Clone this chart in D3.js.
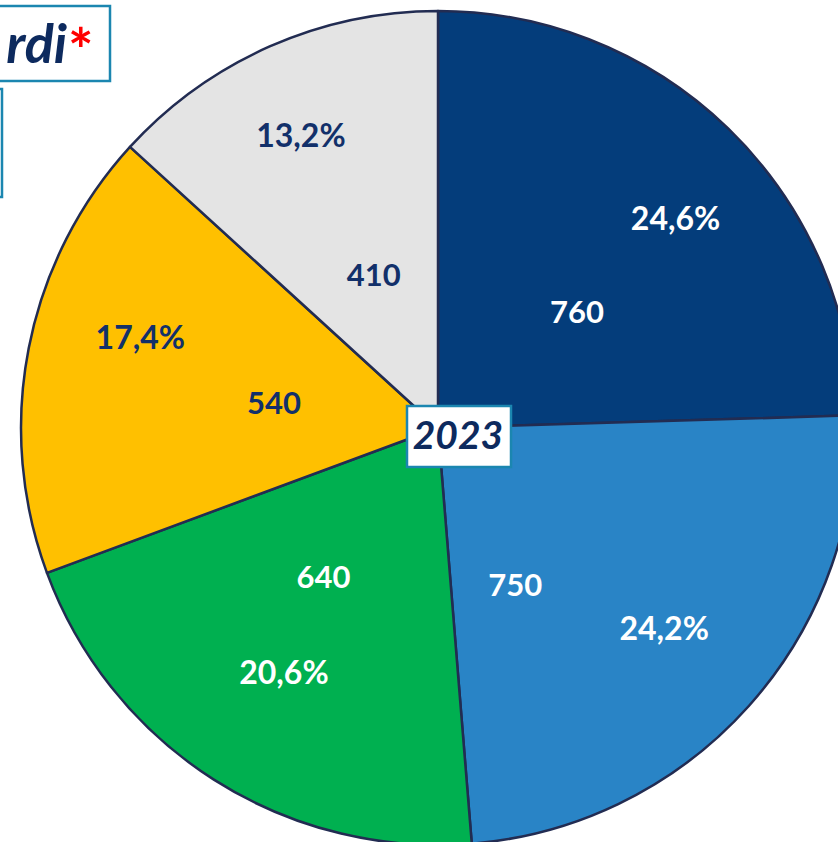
<!DOCTYPE html>
<html>
<head>
<meta charset="utf-8">
<script src="https://cdn.jsdelivr.net/npm/d3@7"></script>
<style>
  body { margin: 0; background: #fff; }
  svg { display: block; }
  text { font-family: Lato, "Open Sans", sans-serif; font-weight: 700; }
</style>
</head>
<body>
<svg id="chart"></svg>
<script>
  const categories = ["A", "B", "C", "D", "E"];
  const values = [760, 750, 640, 540, 410];
  const pctLabels = ["24,6%", "24,2%", "20,6%", "17,4%", "13,2%"];
  const yearLabel = "2023";
  const titleTail = "rdi";

  const width = 838;
  const height = 842;
  const cx = 438;
  const cy = 428;
  const radius = 417;

  const colors = ["#043d7b", "#2984c6", "#00b050", "#ffc000", "#e4e4e4"];
  const textColors = ["#fff", "#fff", "#fff", "#12306a", "#12306a"];

  // label placement: degrees shifted from slice middle, and distance from centre
  const valueShift = [6, 22, 5, -2.3, 1];
  const valueRadius = [181, 175, 188, 166, 166];
  const pctShift = [4.4, -0.3, -0.3, 5.8, -1.3];
  const pctRadius = [317, 302, 289, 311, 323];

  const svg = d3.select("#chart").attr("width", width).attr("height", height);

  const pie = d3.pie().sort(null).value((d) => d.value);
  const arcs = pie(categories.map((c, i) => ({ cat: c, value: values[i], i })));
  const arc = d3.arc().innerRadius(0).outerRadius(radius);

  const g = svg.append("g").attr("transform", `translate(${cx},${cy})`);

  g.selectAll("path.slice")
    .data(arcs)
    .join("path")
    .attr("class", "slice")
    .attr("d", arc)
    .attr("fill", (d) => colors[d.data.i])
    .attr("stroke", "#222c52")
    .attr("stroke-width", 2.5)
    .attr("stroke-linejoin", "round");

  const polar = (d, shift, r) => {
    const a = (d.startAngle + d.endAngle) / 2 + (shift * Math.PI) / 180;
    return [r * Math.sin(a), -r * Math.cos(a)];
  };

  g.selectAll("text.val")
    .data(arcs)
    .join("text")
    .attr("class", "val")
    .attr("transform", (d) => `translate(${polar(d, valueShift[d.data.i], valueRadius[d.data.i])})`)
    .attr("text-anchor", "middle")
    .attr("dy", "0.36em")
    .attr("font-size", 31)
    .attr("font-weight", 900)
    .attr("fill", (d) => textColors[d.data.i])
    .text((d) => d.data.value);

  g.selectAll("text.pct")
    .data(arcs)
    .join("text")
    .attr("class", "pct")
    .attr("transform", (d) => `translate(${polar(d, pctShift[d.data.i], pctRadius[d.data.i])})`)
    .attr("text-anchor", "middle")
    .attr("dy", "0.36em")
    .attr("font-size", 32)
    .attr("font-weight", 900)
    .attr("fill", (d) => textColors[d.data.i])
    .text((d) => pctLabels[d.data.i]);

  // year box in the middle
  svg.append("rect")
    .attr("x", 407).attr("y", 406).attr("width", 104).attr("height", 61)
    .attr("fill", "#fff")
    .attr("stroke", "#1b86b0")
    .attr("stroke-width", 2.5);
  svg.append("text")
    .attr("x", 458).attr("y", 449)
    .attr("text-anchor", "middle")
    .attr("font-size", 39)
    .attr("font-weight", 900)
    .attr("font-style", "italic")
    .attr("fill", "#0d2a5e")
    .text(yearLabel);

  // cropped boxes top-left
  svg.append("rect")
    .attr("x", -40).attr("y", 6).attr("width", 150).attr("height", 75)
    .attr("fill", "#fff")
    .attr("stroke", "#1b86b0")
    .attr("stroke-width", 2.5);
  svg.append("text")
    .attr("x", 67).attr("y", 63)
    .attr("text-anchor", "end")
    .attr("font-size", 54)
    .attr("font-weight", 900)
    .attr("font-style", "italic")
    .attr("fill", "#0d2a5e")
    .text(titleTail);
  svg.append("text")
    .attr("x", 68).attr("y", 72)
    .attr("font-size", 60)
    .attr("font-weight", 900)
    .attr("fill", "#ff0000")
    .text("*");
  svg.append("rect")
    .attr("x", -40).attr("y", 89).attr("width", 42).attr("height", 108)
    .attr("fill", "#fff")
    .attr("stroke", "#1b86b0")
    .attr("stroke-width", 2.5);
</script>
</body>
</html>
